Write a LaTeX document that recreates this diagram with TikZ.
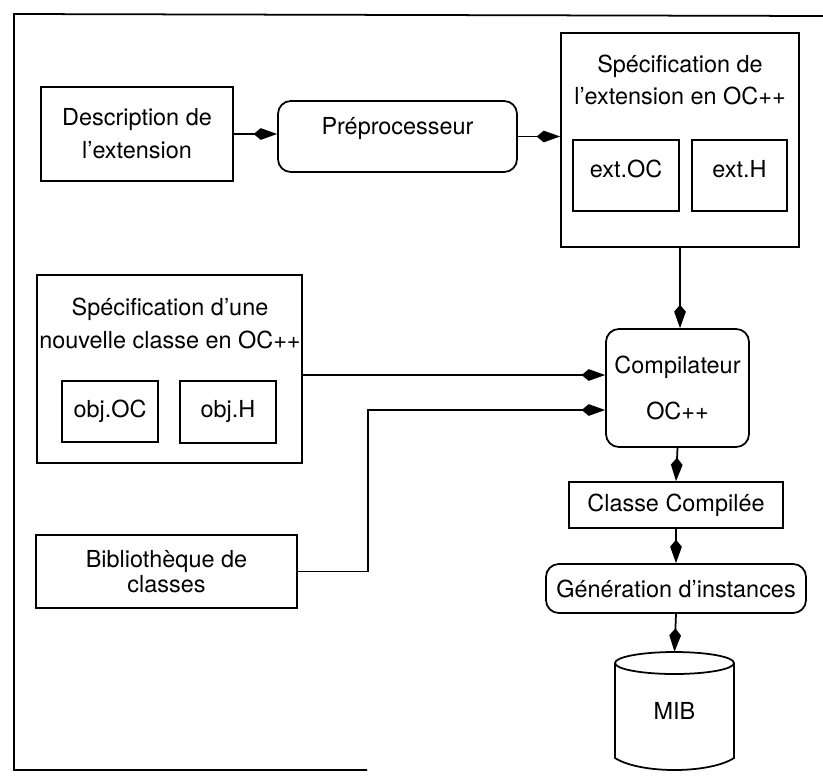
\documentclass[tikz,border=0pt]{standalone}
\usepackage{fontspec}
\setmainfont{TeX Gyre Heros}
\usetikzlibrary{calc,positioning,arrows.meta}

\begin{document}
\begin{tikzpicture}[x=0.03cm,y=-0.03cm,
    every node/.style={font=\fontsize{20}{28}\selectfont, align=center, inner sep=0pt},
    boite/.style={draw, line width=1.5pt, rectangle},
    arrondi/.style={boite, rounded corners=11pt},
    fleche/.style={line width=1.5pt, -{Kite[length=20pt,width=10pt,inset=6pt]}}]
    \useasboundingbox (0,0) rectangle (823,775);

    % cadre
    \draw[line width=1.5pt] (823,16) -- (14,14) -- (14,770) -- (367,770);

    \node[boite, minimum width=5.76cm, minimum height=2.82cm] (desc) at (137,134) {Description de\\l’extension};
    \node[arrondi, minimum width=7.17cm, minimum height=2.13cm, text depth=0.62cm] (preproc) at (397.5,136.5) {Préprocesseur};

    % extension en OC++
    \node[boite, minimum width=7.14cm, minimum height=6.42cm] (specext) at (680,140) {};
    \node (specexttitre) at (680,80) {Spécification de\\l’extension en OC++};
    \node[boite, minimum width=3.18cm, minimum height=2.13cm, text depth=0.4cm] (extoc) at (626,175.5) {ext.OC};
    \node[boite, minimum width=2.85cm, minimum height=2.13cm, text depth=0.4cm] (exth) at (739.5,175.5) {ext.H};

    % nouvelle classe
    \node[boite, minimum width=7.95cm, minimum height=5.64cm] (specclasse) at (169.5,369) {};
    \node (specclassetitre) at (170,323.5) {Spécification d’une\\nouvelle classe en OC++};
    \node[boite, minimum width=2.88cm, minimum height=1.83cm] (objoc) at (110,411.5) {obj.OC};
    \node[boite, minimum width=2.88cm, minimum height=1.86cm] (objh) at (228,412) {obj.H};

    \node[boite, minimum width=7.83cm, minimum height=2.19cm] (biblio) at (166.5,571.5) {Bibliothèque de\\[-7pt]classes};

    \node[arrondi, minimum width=4.29cm, minimum height=3.54cm] (compil) at (677.5,388) {Compilateur\\[12pt]OC++};
    \node[boite, minimum width=6.42cm, minimum height=1.38cm] (classe) at (676,505) {Classe Compilée};
    \node[arrondi, minimum width=7.8cm, minimum height=1.47cm] (gener) at (676,588.5) {Génération d’instances};

    % MIB
    \node[minimum width=3.57cm, minimum height=3.54cm] (mib) at (674.5,711) {MIB};
    \draw[line width=1.5pt] (674.5,663) ellipse [x radius=59.5, y radius=11];
    \draw[line width=1.5pt] (615,663) -- (615,758) .. controls (640,774) and (709,774) .. (734,758) -- (734,663);

    % fleches
    \coordinate (in1) at ([yshift=0.39cm]compil.west);
    \coordinate (in2) at ([yshift=-0.66cm]compil.west);
    \coordinate (coude) at (368,0);

    \draw[fleche] (desc.east) -- (desc.east -| preproc.west);
    \draw[fleche] (preproc.east) -- (preproc.east -| specext.west);
    \draw[fleche] (specext.south) -- (specext.south |- compil.north);
    \draw[fleche] (in1 -| specclasse.east) -- (in1);
    \draw[fleche] (biblio.east) -| (coude |- in2) -- (in2);

    \foreach \a/\b in {compil/classe, classe/gener, gener/mib}
    {
        \draw[fleche] (\a.south) -- (\b.north);
    };
\end{tikzpicture}
\end{document}
